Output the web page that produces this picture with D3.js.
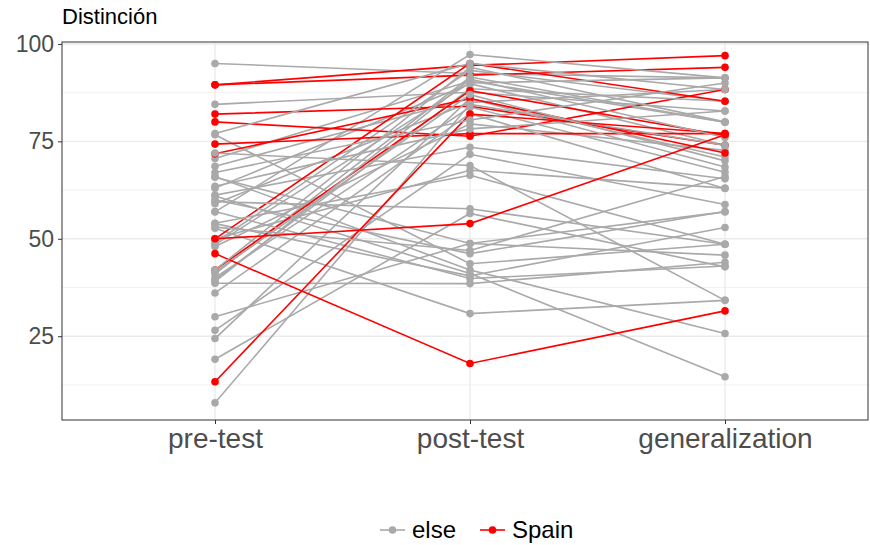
<!DOCTYPE html>
<html>
<head>
<meta charset="utf-8">
<script src="https://cdn.jsdelivr.net/npm/d3@7"></script>
<style>
  body { margin: 0; background: #fff; }
  text { font-family: "Liberation Sans", Arial, Helvetica, sans-serif; }
</style>
</head>
<body>
<div class="CHART"></div>
<script>
// categories on the x axis
var phases = ["pre-test", "post-test", "generalization"];
var yTicks = [25, 50, 75, 100];
var groups = ["else", "Spain"];

// one row per participant: [pre, post, gen]
var elseScores = [
  [95, 92.4, 91.3], [84.5, 87.6, 82.8], [76.7, 43.6, 48.6], [70.6, 90.5, 79.9],
  [68.6, 86, 71], [65.8, 48.8, 56.9], [63, 89.8, 74], [61.2, 73.5, 65.4],
  [59, 85, 88.3], [56.9, 97.3, 91.3], [53.9, 40.5, 52.9], [52.7, 30.8, 34.2],
  [49, 93.2, 85.3], [48, 79.5, 72.7], [41, 91.5, 79.9], [40, 83.8, 67.1],
  [39.5, 88.5, 85.3], [38.6, 38.5, 44], [36.1, 82.1, 62.9], [30, 48.8, 45.8],
  [26.5, 71.7, 58.8], [24.4, 86, 68.4], [19.1, 56.5, 42.8], [7.9, 84.5, 74],
  [61, 41.1, 14.6], [66, 42, 25.7], [59.5, 57.7, 48.6], [72, 68.8, 34.2],
  [54, 66.3, 48.6], [50, 67.6, 63], [77, 95, 88.3], [60, 46.2, 57],
  [57, 39.8, 43], [63.5, 78.2, 82.8], [48.5, 90, 91.3], [41.5, 87, 70],
  [39, 91, 76], [53, 47, 66], [67, 80.5, 90], [42, 94, 80]
];
var spainScores = [
  [89.5, 94.5, 97], [89.5, 92, 94], [82, 84, 74], [80, 76.3, 88.3],
  [74.3, 77, 77], [71.8, 86, 72], [50, 95, 85.3], [42, 88, 76.5],
  [13.3, 82, 77], [46.2, 18, 31.5], [50, 53.9, 76.7]
];

var W = 870, H = 545;
var margin = {top: 42, right: 2, bottom: 125, left: 62},
    width = W - margin.left - margin.right,
    height = H - margin.top - margin.bottom;

var svg = d3.select(".CHART").append("svg")
  .attr("width", W)
  .attr("height", H);

var g = svg.append("g").attr("transform", "translate(" + margin.left + "," + margin.top + ")");

var x = d3.scalePoint().domain(phases).range([153, 663]);
var y = d3.scaleLinear().domain([3.5, 100.5]).range([height, 0]);
var colour = d3.scaleOrdinal().domain(groups).range(["#A9A9A9", "#FF0000"]);

// grid lines: minor then major
var minor = [12.5, 37.5, 62.5, 87.5];
g.selectAll(".minor").data(minor).enter().append("line")
  .attr("x1", 0).attr("x2", width)
  .attr("y1", function(d) { return y(d); }).attr("y2", function(d) { return y(d); })
  .attr("stroke", "#f2f2f2").attr("stroke-width", 1);
g.selectAll(".major").data(yTicks).enter().append("line")
  .attr("x1", 0).attr("x2", width)
  .attr("y1", function(d) { return y(d); }).attr("y2", function(d) { return y(d); })
  .attr("stroke", "#ebebeb").attr("stroke-width", 1.4);
g.selectAll(".vmajor").data(phases).enter().append("line")
  .attr("y1", 0).attr("y2", height)
  .attr("x1", function(d) { return x(d); }).attr("x2", function(d) { return x(d); })
  .attr("stroke", "#ebebeb").attr("stroke-width", 1.4);

// build participant rows, interleave the two groups so red is not always on top
var rows = [];
var si = 0;
elseScores.forEach(function(s, i) {
  rows.push({group: "else", vals: s});
  if (i % 4 === 1 && si < spainScores.length) { rows.push({group: "Spain", vals: spainScores[si]}); si++; }
});
while (si < spainScores.length) { rows.push({group: "Spain", vals: spainScores[si]}); si++; }

var line = d3.line()
  .x(function(d, i) { return x(phases[i]); })
  .y(function(d) { return y(d); });

g.selectAll(".subj").data(rows).enter().append("path")
  .attr("d", function(d) { return line(d.vals); })
  .attr("fill", "none")
  .attr("stroke", function(d) { return colour(d.group); })
  .attr("stroke-width", 1.6);

rows.forEach(function(r) {
  g.selectAll(null).data(r.vals).enter().append("circle")
    .attr("cx", function(d, i) { return x(phases[i]); })
    .attr("cy", function(d) { return y(d); })
    .attr("r", 3.8)
    .attr("fill", colour(r.group));
});

// panel border
g.append("rect").attr("width", width).attr("height", height)
  .attr("fill", "none").attr("stroke", "#333333").attr("stroke-width", 1);

// axes
var yAxis = g.append("g").call(d3.axisLeft(y).tickValues(yTicks).tickSize(4).tickPadding(4));
yAxis.select(".domain").remove();
yAxis.selectAll("line").attr("stroke", "#333333");
yAxis.selectAll("text").attr("font-size", 23).attr("fill", "#4d4d4d")
  .attr("font-family", "Liberation Sans, Arial, sans-serif");

var xAxis = g.append("g").attr("transform", "translate(0," + height + ")")
  .call(d3.axisBottom(x).tickSize(4).tickPadding(4));
xAxis.select(".domain").remove();
xAxis.selectAll("line").attr("stroke", "#333333");
xAxis.selectAll("text").attr("font-size", 28).attr("fill", "#4d4d4d")
  .attr("font-family", "Liberation Sans, Arial, sans-serif");

// title
svg.append("text").attr("x", 62).attr("y", 24)
  .attr("font-size", 22).attr("fill", "#000").text("Distinción");

// legend
var legX = [380, 480];
var leg = svg.selectAll(".leg").data(groups).enter().append("g")
  .attr("transform", function(d, i) { return "translate(" + legX[i] + ",530)"; });
leg.append("line").attr("x1", 0).attr("x2", 25).attr("y1", 0).attr("y2", 0)
  .attr("stroke", function(d) { return colour(d); }).attr("stroke-width", 1.6);
leg.append("circle").attr("cx", 12.5).attr("cy", 0).attr("r", 3.8)
  .attr("fill", function(d) { return colour(d); });
leg.append("text").attr("x", 32).attr("y", 8).attr("font-size", 24).attr("fill", "#000")
  .text(function(d) { return d; });
</script>
</body>
</html>
